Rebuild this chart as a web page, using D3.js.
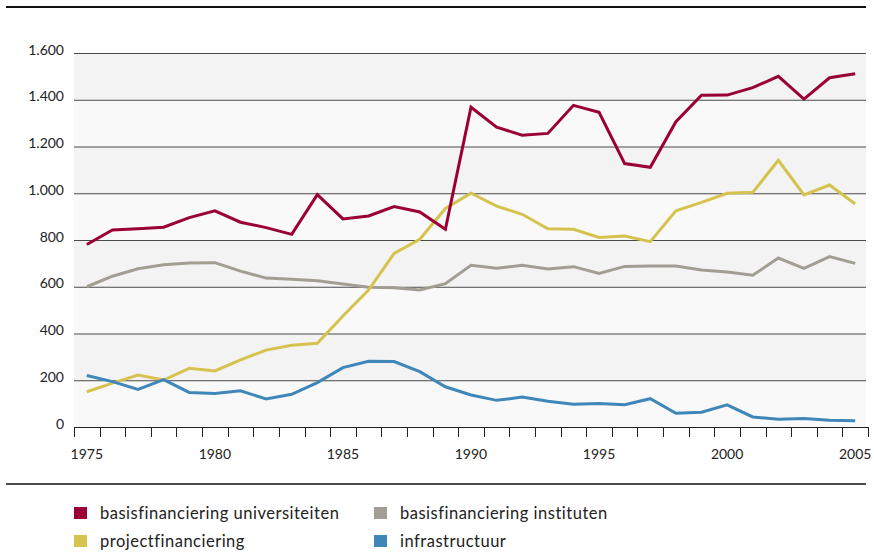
<!DOCTYPE html>
<html><head><meta charset="utf-8">
<script src="https://cdn.jsdelivr.net/npm/d3@7"></script>
<style>body{margin:0;background:#fff}svg{display:block}text{font-family:Lato,"Open Sans",sans-serif}</style>
</head><body><svg id="c" width="874" height="552"></svg>
<script>
const years = d3.range(1975, 2006);
const yTicks = [0,200,400,600,800,1000,1200,1400,1600];
const xTickLabels = [1975,1980,1985,1990,1995,2000,2005];
const seriesNames = ["basisfinanciering universiteiten","basisfinanciering instituten","projectfinanciering","infrastructuur"];
const seriesColors = ["#9b0034","#a39e93","#d6c24e","#3f87b8"];
const univ = [781,843,848,855,896,925,876,853,824,994,890,903,943,920,846,1368,1283,1248,1256,1376,1346,1127,1111,1306,1419,1420,1452,1500,1403,1494,1511];
const inst = [600,645,677,694,702,703,667,637,632,626,612,598,596,586,613,692,679,692,676,686,657,687,689,689,672,663,649,723,679,729,700];
const proj = [151,188,222,201,251,240,287,329,350,358,475,586,743,803,935,1000,945,910,848,846,811,817,793,925,961,1000,1004,1141,993,1035,954];
const infra = [220,194,161,203,148,143,155,120,140,190,254,281,280,237,172,137,114,128,110,97,101,95,121,59,63,95,43,33,36,29,27];
const seriesData = [univ, inst, proj, infra];

const svg = d3.select("#c");
const x = d3.scaleBand().domain(years).range([74, 868]);
const y = d3.scaleLinear().domain([0,1600]).range([427, 53]);

// top rule
svg.append("line").attr("x1",6).attr("x2",866).attr("y1",7).attr("y2",7).attr("stroke","#111").attr("stroke-width",2);

// background stripes
for (let i = 0; i < yTicks.length-1; i++) {
  svg.append("rect").attr("x",74).attr("width",792)
    .attr("y", y(yTicks[i+1])).attr("height", y(yTicks[i]) - y(yTicks[i+1]))
    .attr("fill", i % 2 === 0 ? "#f9f9f9" : "#f3f3f3");
}
// gridlines
svg.append("g").selectAll("line").data(yTicks.slice(1)).join("line")
  .attr("x1",74).attr("x2",866).attr("y1",d=>y(d)+0.5).attr("y2",d=>y(d)+0.5)
  .attr("stroke","#4a4a4a").attr("stroke-width",1);

// y labels
svg.append("g").selectAll("text").data(yTicks).join("text")
  .attr("x",64).attr("y",d=>y(d)+1.5).attr("text-anchor","end")
  .attr("font-size",14).attr("fill","#222")
  .text(d=>d3.format(",")(d).replace(/,/g,"."));

// x axis
const xAxis = svg.append("g").attr("transform","translate(0,427)");
xAxis.append("line").attr("x1",74).attr("x2",868).attr("y1",0.5).attr("y2",0.5).attr("stroke","#222");
const bounds = years.map(yr=>x(yr)).concat([x(2005)+x.bandwidth()]);
xAxis.selectAll("line.t").data(bounds).join("line").attr("class","t")
  .attr("x1",d=>Math.round(d)+0.5).attr("x2",d=>Math.round(d)+0.5).attr("y1",0).attr("y2",10)
  .attr("stroke","#222");
xAxis.selectAll("text").data(xTickLabels).join("text")
  .attr("x",d=>x(d)+x.bandwidth()/2).attr("y",32).attr("text-anchor","middle")
  .attr("font-size",14).attr("fill","#222").text(d=>d);

// lines
const line = d3.line().x((d,i)=>x(years[i])+x.bandwidth()/2).y(d=>y(d));
const drawOrder = [1,2,3,0];
drawOrder.forEach(k=>{
  svg.append("path").datum(seriesData[k]).attr("d",line)
    .attr("fill","none").attr("stroke",seriesColors[k]).attr("stroke-width",3)
    .attr("stroke-linejoin","miter");
});

// legend rule
svg.append("line").attr("x1",6).attr("x2",866).attr("y1",484).attr("y2",484).attr("stroke","#111").attr("stroke-width",1.5);

// legend
const legPos = [[74,513],[374,513],[74,541],[374,541]];
seriesNames.forEach((n,i)=>{
  const [lx,ly] = legPos[i];
  svg.append("rect").attr("x",lx).attr("y",ly-6).attr("width",13).attr("height",12).attr("fill",seriesColors[i]);
  svg.append("text").attr("x",lx+26).attr("y",ly+5.5).attr("font-size",16.5)
    .attr("letter-spacing",0.5).attr("fill","#222").text(n);
});
</script></body></html>
